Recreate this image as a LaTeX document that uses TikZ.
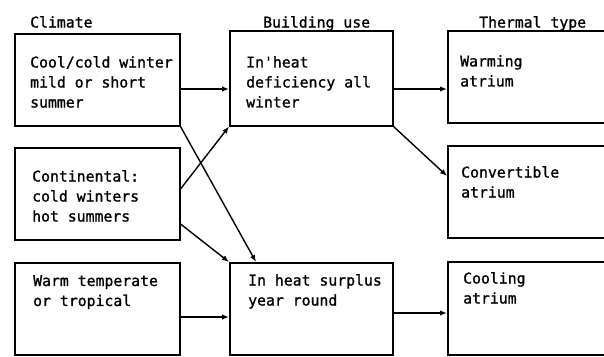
\documentclass[tikz,border=0pt]{standalone}
\usepackage{fontspec}
\newfontfamily\dmfont[FakeBold=1.2]{DejaVu Sans Mono}
\usetikzlibrary{arrows.meta}
\begin{document}
\begin{tikzpicture}[x=1pt,y=-1pt,
  box/.style={draw, line width=1.5pt, rectangle, inner sep=0pt, anchor=north west},
  txt/.style={anchor=north west, inner sep=0pt, align=left, font=\dmfont\fontsize{14.8}{20}\selectfont},
  conn/.style={line width=1.4pt, -{Latex[length=7pt,width=5.5pt]}},
]
\useasboundingbox (0,0) rectangle (604,356);
\clip (0,0) rectangle (604,356);
% headers
\node[txt] (hc) at (30,16) {Climate};
\node[txt] (hb) at (263,16) {Building use};
\node[txt] (ht) at (479,16) {Thermal type};
% boxes
\node[box, minimum width=165pt, minimum height=92pt] (l1) at (14,33) {};
\node[box, minimum width=165pt, minimum height=92pt] (l2) at (14,147) {};
\node[box, minimum width=165pt, minimum height=92pt] (l3) at (14,262) {};
\node[box, minimum width=163pt, minimum height=95pt] (m1) at (229,30) {};
\node[box, minimum width=163pt, minimum height=92pt] (m2) at (229,262) {};
\node[box, minimum width=180pt, minimum height=92pt] (r1) at (447,30) {};
\node[box, minimum width=180pt, minimum height=92pt] (r2) at (447,145) {};
\node[box, minimum width=180pt, minimum height=93pt] (r3) at (447,261) {};
% texts
\node[txt] (l1t) at (30,56) {Cool/cold winter\\mild or short\\summer};
\node[txt] (l2t) at (32,170) {Continental:\\cold winters\\hot summers};
\node[txt] (l3t) at (33,275) {Warm temperate\\or tropical};
\node[txt] (m1t) at (246,56) {In'heat\\deficiency all\\winter};
\node[txt] (m2t) at (248,274) {In heat surplus\\year round};
\node[txt] (r1t) at (460,55) {Warming\\atrium};
\node[txt] (r2t) at (461,166) {Convertible\\atrium};
\node[txt] (r3t) at (463,272) {Cooling\\atrium};
% connectors
\draw[conn] ([yshift=-56pt]l1.north east) -- ([yshift=-56pt]l1.north east -| m1.west);
\draw[conn] ([yshift=-59pt]m1.north east) -- ([yshift=-59pt]m1.north east -| r1.west);
\draw[conn] (l1.south east) -- ([xshift=27pt]m2.north west);
\draw[conn] ([yshift=-42pt]l2.north east) -- (m1.south west);
\draw[conn] ([yshift=-77pt]l2.north east) -- (m2.north west);
\draw[conn] (m1.south east) -- ([yshift=-31pt]r2.north west);
\draw[conn] ([yshift=-55pt]l3.north east) -- ([yshift=-55pt]l3.north east -| m2.west);
\draw[conn] ([yshift=-51pt]m2.north east) -- ([yshift=-51pt]m2.north east -| r3.west);
\end{tikzpicture}
\end{document}
